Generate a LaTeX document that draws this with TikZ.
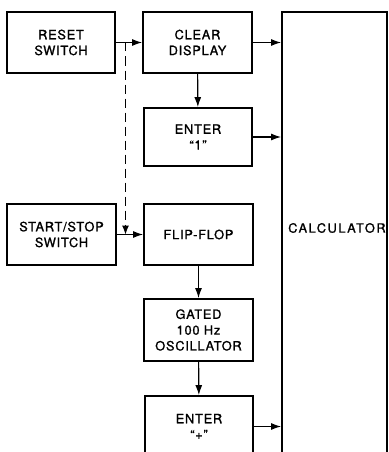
\documentclass[tikz,border=0pt]{standalone}
\usepackage{fontspec}
\newfontfamily\labfont[LetterSpace=6,FakeBold=1.2]{TeX Gyre Heros}
\newfontfamily\calcfont[LetterSpace=12,FakeBold=1.2]{TeX Gyre Heros}
\usetikzlibrary{arrows.meta}
\begin{document}
\begin{tikzpicture}[x=1pt,y=-1pt,
  blk/.style={draw, line width=1.9pt, minimum width=108pt, minimum height=61pt,
    align=center, inner sep=0pt, font=\labfont\fontsize{12.8}{15.8}\selectfont},
  lbl/.style={inner sep=0pt, font=\calcfont\fontsize{12.8}{15.8}\selectfont},
  conn/.style={line width=1.1pt, -{Latex[length=10pt,width=7pt]}},
  dconn/.style={line width=1.1pt, dash pattern=on 9pt off 5pt, -{Latex[length=9pt,width=7pt]}}]
\useasboundingbox (0,0) rectangle (388,452);
\clip (0,0) rectangle (388,452);
\fill[white] (0,0) rectangle (388,452);

\node[blk] (reset) at (61,42.5) {RESET\\SWITCH};
\node[blk, minimum width=109pt] (clear) at (197.5,42.5) {CLEAR\\DISPLAY};
\node[blk, minimum height=58pt] (one) at (198,137) {ENTER\\“1”};
\node[blk, minimum width=109pt] (ss) at (61.5,234.5) {START/STOP\\SWITCH};
\node[blk, minimum width=109pt] (ff) at (198.5,234.5) {FLIP-FLOP};
\node[blk, minimum width=109pt, minimum height=62pt] (osc) at (198.5,330) {GATED\\100 Hz\\OSCILLATOR};
\node[blk] (plus) at (199,426.5) {ENTER\\“+”};

\node[draw, line width=1.9pt, minimum width=105pt, minimum height=500pt, inner sep=0pt] (calc) at (334.5,262) {};
\node[lbl, anchor=west] (calctext) at (288,228) {CALCULATOR};

\draw[conn] (reset) -- (clear);
\draw[conn] (ss) -- (ff);
\draw[conn] (clear) -- (one);
\draw[conn] (ff.south -| osc.north) -- (osc);
\draw[conn] (osc) -- (plus);
\draw[conn] (clear.east) -- (clear.east -| calc.west);
\draw[conn] (one.east) -- (one.east -| calc.west);
\draw[conn] (plus.east) -- (plus.east -| calc.west);

\coordinate (j) at (125.5,42.5);
\draw[dconn] (j) -- (j |- ss.east);
\end{tikzpicture}
\end{document}
